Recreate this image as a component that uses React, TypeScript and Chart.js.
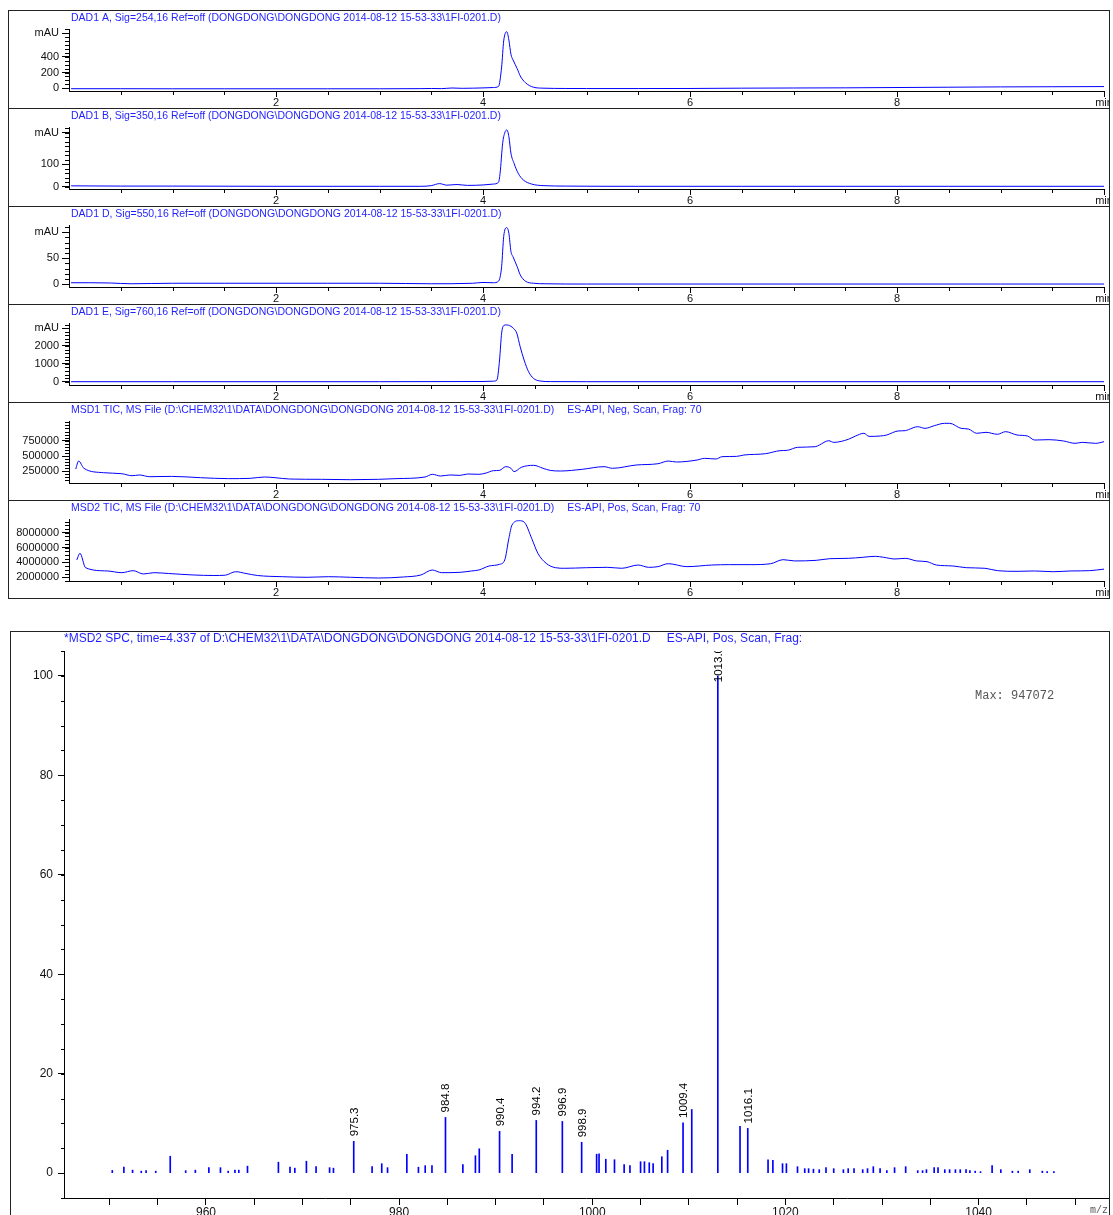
import React, { useEffect, useRef } from 'react';
import { Chart, registerables } from 'chart.js';

Chart.register(...registerables);

const FONT = '"Liberation Sans", Arial, Helvetica, sans-serif';
const MONO = '"Liberation Mono", "Courier New", monospace';
const TRACE_BLUE = '#0000ff';
const TITLE_BLUE = '#1f1fff';
const AXIS = '#000000';
const FRAME = '#222222';

Chart.defaults.font.family = FONT;

// ---------- retention time axis ----------
const timeMajorTicks = [2, 4, 6, 8, 10];

// ---------- DAD1 A, 254 nm (mAU) ----------
const dadATime = [0.02, 0.5, 1.0, 1.5, 2.0, 2.5, 3.0, 3.4, 3.5, 3.6, 3.7, 3.8, 3.9, 4.0, 4.1, 4.15, 4.18, 4.2, 4.23, 4.25, 4.27, 4.29, 4.33, 4.36, 4.41, 4.49, 4.58, 4.8, 5.0, 5.5, 6.0, 6.5, 7.0, 7.5, 8.0, 8.5, 9.0, 9.5, 10.0];
const dadAValue = [-5, -5, -6, -6, -6, -6, -6, -4, -2, -4, 4, 0, 2, 5, 10, 25, 270, 600, 717, 611, 430, 360, 250, 156, 71, 13, 2, -2, -3, -3, -2, 2, 4, 6, 10, 14, 18, 20, 22];
const dadAYLabels = [0, 200, 400];

// ---------- DAD1 B, 350 nm (mAU) ----------
const dadBTime = [0.02, 0.5, 1.0, 2.0, 3.0, 3.4, 3.5, 3.58, 3.65, 3.75, 3.85, 4.0, 4.1, 4.15, 4.165, 4.19, 4.21, 4.23, 4.25, 4.27, 4.3, 4.34, 4.39, 4.47, 4.58, 4.8, 5.5, 6.5, 7.5, 8.5, 10.0];
const dadBValue = [4, 3, 3, 2, 2, 2, 5, 14, 7, 10, 6, 8, 12, 20, 60, 194, 240, 253, 223, 149, 104, 60, 30, 12, 5, 3, 2, 2, 2, 2, 2];
const dadBYLabels = [0, 100];

// ---------- DAD1 D, 550 nm (mAU) ----------
const dadDTime = [0.02, 0.2, 0.4, 0.6, 1.0, 1.5, 2.0, 2.5, 3.0, 3.5, 3.9, 4.0, 4.1, 4.15, 4.18, 4.2, 4.23, 4.25, 4.27, 4.29, 4.33, 4.36, 4.41, 4.49, 4.6, 5.0, 6.0, 7.0, 8.0, 9.0, 10.0];
const dadDValue = [3, 3, 2.5, 1, 2, 2, 2, 2, 2, 1, 2, 3.5, 3, 6, 34, 92, 109, 98, 63, 53, 34, 18, 6, 2, 1, 0.5, 0.5, 0.5, 0.5, 0.5, 0.5];
const dadDYLabels = [0, 50];

// ---------- DAD1 E, 760 nm (mAU) ----------
const dadETime = [0.02, 1.0, 2.0, 3.0, 4.0, 4.1, 4.134, 4.16, 4.18, 4.204, 4.225, 4.246, 4.27, 4.294, 4.326, 4.359, 4.397, 4.44, 4.487, 4.55, 4.65, 5.0, 6.0, 8.0, 10.0];
const dadEValue = [0, 0, 0, 0, 10, 30, 90, 1215, 2720, 3160, 3180, 3165, 3100, 2990, 2720, 1960, 1215, 560, 190, 40, 5, 0, 0, 0, 0];
const dadEYLabels = [0, 1000, 2000];

// ---------- MSD1 TIC, negative scan ----------
const ticNegTime = [0.065, 0.093, 0.144, 0.334, 0.51, 0.61, 0.68, 0.78, 0.99, 1.27, 1.54, 1.75, 1.89, 1.99, 2.13, 2.44, 2.72, 2.99, 3.16, 3.44, 3.51, 3.59, 3.68, 3.78, 3.85, 3.96, 4.03, 4.10, 4.16, 4.22, 4.27, 4.30, 4.37, 4.49, 4.58, 4.65, 4.75, 4.96, 5.17, 5.25, 5.48, 5.69, 5.79, 5.87, 6.07, 6.14, 6.25, 6.31, 6.45, 6.52, 6.73, 6.87, 6.94, 7.04, 7.21, 7.25, 7.34, 7.39, 7.53, 7.60, 7.68, 7.73, 7.84, 7.90, 8.01, 8.08, 8.11, 8.20, 8.27, 8.36, 8.46, 8.51, 8.62, 8.69, 8.77, 8.86, 8.97, 9.05, 9.16, 9.26, 9.33, 9.47, 9.61, 9.72, 9.79, 9.92, 10.0];
const ticNegValue = [287000, 418000, 299000, 227000, 211000, 178000, 190000, 162000, 167000, 146000, 130000, 135000, 157000, 146000, 124000, 119000, 113000, 119000, 130000, 157000, 201000, 173000, 190000, 184000, 206000, 201000, 222000, 260000, 266000, 326000, 299000, 244000, 315000, 348000, 299000, 265000, 255000, 283000, 326000, 299000, 353000, 374000, 418000, 402000, 435000, 462000, 451000, 489000, 494000, 516000, 538000, 587000, 593000, 642000, 652000, 680000, 750000, 723000, 773000, 827000, 871000, 821000, 827000, 843000, 909000, 914000, 930000, 979000, 952000, 995000, 1034000, 1034000, 952000, 941000, 871000, 887000, 855000, 898000, 843000, 827000, 761000, 767000, 745000, 707000, 723000, 707000, 734000];
const ticNegYLabels = [250000, 500000, 750000];

// ---------- MSD2 TIC, positive scan ----------
const ticPosTime = [0.075, 0.106, 0.16, 0.37, 0.51, 0.62, 0.72, 0.82, 0.96, 1.20, 1.40, 1.51, 1.61, 1.71, 1.82, 2.06, 2.30, 2.51, 2.72, 2.99, 3.23, 3.40, 3.51, 3.60, 3.78, 3.89, 3.96, 4.06, 4.16, 4.21, 4.25, 4.28, 4.35, 4.40, 4.47, 4.53, 4.61, 4.70, 4.79, 5.0, 5.20, 5.34, 5.50, 5.60, 5.69, 5.79, 5.97, 6.21, 6.38, 6.59, 6.78, 6.90, 7.01, 7.22, 7.35, 7.53, 7.67, 7.79, 7.87, 7.98, 8.08, 8.19, 8.29, 8.38, 8.54, 8.67, 8.85, 8.97, 9.16, 9.33, 9.51, 9.68, 9.86, 10.0];
const ticPosValue = [4330000, 5230000, 3290000, 2850000, 2620000, 2890000, 2440000, 2620000, 2510000, 2310000, 2240000, 2280000, 2750000, 2510000, 2240000, 2080000, 2000000, 2080000, 2000000, 1900000, 2040000, 2310000, 2980000, 2620000, 2670000, 2850000, 2980000, 3520000, 3740000, 4330000, 7240000, 9030000, 9610000, 9400000, 7240000, 5230000, 3880000, 3290000, 3210000, 3290000, 3340000, 3210000, 3650000, 3340000, 3430000, 3830000, 3430000, 3650000, 3700000, 3700000, 3830000, 4370000, 4200000, 4280000, 4500000, 4550000, 4690000, 4820000, 4690000, 4460000, 4550000, 4200000, 4100000, 3650000, 3520000, 3290000, 3210000, 2890000, 2800000, 2850000, 2750000, 2850000, 2890000, 3100000];
const ticPosYLabels = [2000000, 4000000, 6000000, 8000000];

// ---------- MSD2 spectrum at 4.337 min (relative abundance, %) ----------
const spectrumMz = [
  950.3, 951.5, 952.4, 953.3, 953.8, 954.8, 956.3, 957.9, 958.9, 960.3,
  961.5, 962.3, 963.0, 963.4, 964.3, 967.5, 968.7, 969.2, 970.4, 971.4,
  972.8, 973.2, 975.3, 977.2, 978.2, 978.8, 980.8, 982.0, 982.7, 983.4,
  984.8, 986.6, 987.9, 988.3, 990.4, 991.7, 994.2, 996.9, 998.9, 1000.45,
  1000.7, 1001.4, 1002.3, 1003.3, 1003.9, 1005.0, 1005.4, 1005.9, 1006.3, 1007.2,
  1007.8, 1009.4, 1010.3, 1013.0, 1015.3, 1016.1, 1018.2, 1018.7, 1019.7, 1020.1,
  1021.25, 1022.0, 1022.4, 1022.9, 1023.5, 1024.2, 1025.0, 1026.0, 1026.5, 1027.1,
  1028.0, 1028.5, 1029.1, 1029.8, 1030.5, 1031.3, 1032.45, 1033.7, 1034.2, 1034.6,
  1035.4, 1035.8, 1036.5, 1037.0, 1037.6, 1038.1, 1038.7, 1039.1, 1039.65, 1040.2,
  1041.4, 1042.3, 1043.5, 1044.1, 1045.3, 1046.6, 1047.1, 1047.8,
];
const spectrumAbundance = [
  0.55, 1.2, 0.6, 0.4, 0.5, 0.4, 3.4, 0.5, 0.6, 1.1,
  1.1, 0.4, 0.6, 0.6, 1.4, 2.2, 1.2, 1.0, 2.4, 1.3,
  1.1, 1.0, 6.4, 1.3, 1.9, 1.1, 3.8, 1.2, 1.5, 1.5,
  11.2, 1.7, 3.5, 4.9, 8.4, 3.8, 10.6, 10.4, 6.2, 3.8,
  3.9, 2.8, 2.7, 1.7, 1.5, 2.3, 2.3, 2.1, 1.9, 3.3,
  4.6, 10.1, 12.8, 100, 9.4, 9.0, 2.7, 2.6, 1.9, 1.9,
  1.3, 0.9, 0.9, 0.8, 0.7, 1.1, 0.9, 0.7, 0.9, 0.9,
  0.7, 0.9, 1.3, 0.9, 0.5, 1.1, 1.3, 0.5, 0.5, 0.7,
  1.1, 1.1, 0.7, 0.7, 0.7, 0.7, 0.7, 0.5, 0.4, 0.3,
  1.5, 0.7, 0.4, 0.4, 0.7, 0.4, 0.3, 0.3,
];
const labelledPeaks = [975.3, 984.8, 990.4, 994.2, 996.9, 998.9, 1009.4, 1013.0, 1016.1];
const spectrumYLabels = [0, 20, 40, 60, 80, 100];
const spectrumMaxCounts = 947072;

const FILE = '2014-08-12 15-53-33\\1FI-0201.D';

type Panel = {
  title: string;
  suffix?: string;
  time: number[];
  value: number[];
  yMin: number;
  yMax: number;
  yLabels: number[];
  unitAt?: number;
  yMinorStep: number;
};

const panels: Panel[] = [
  { title: `DAD1 A, Sig=254,16 Ref=off (DONGDONG\\DONGDONG ${FILE})`, time: dadATime, value: dadAValue, yMin: -34, yMax: 751, yLabels: dadAYLabels, unitAt: 700, yMinorStep: 50 },
  { title: `DAD1 B, Sig=350,16 Ref=off (DONGDONG\\DONGDONG ${FILE})`, time: dadBTime, value: dadBValue, yMin: -10, yMax: 266, yLabels: dadBYLabels, unitAt: 240, yMinorStep: 20 },
  { title: `DAD1 D, Sig=550,16 Ref=off (DONGDONG\\DONGDONG ${FILE})`, time: dadDTime, value: dadDValue, yMin: -5.2, yMax: 114, yLabels: dadDYLabels, unitAt: 100, yMinorStep: 10 },
  { title: `DAD1 E, Sig=760,16 Ref=off (DONGDONG\\DONGDONG ${FILE})`, time: dadETime, value: dadEValue, yMin: -185, yMax: 3287, yLabels: dadEYLabels, unitAt: 3000, yMinorStep: 200 },
  { title: `MSD1 TIC, MS File (D:\\CHEM32\\1\\DATA\\DONGDONG\\DONGDONG ${FILE})`, suffix: 'ES-API, Neg, Scan, Frag: 70', time: ticNegTime, value: ticNegValue, yMin: 59000, yMax: 1072000, yLabels: ticNegYLabels, yMinorStep: 50000 },
  { title: `MSD2 TIC, MS File (D:\\CHEM32\\1\\DATA\\DONGDONG\\DONGDONG ${FILE})`, suffix: 'ES-API, Pos, Scan, Frag: 70', time: ticPosTime, value: ticPosValue, yMin: 1500000, yMax: 9840000, yLabels: ticPosYLabels, yMinorStep: 500000 },
];

type Deco = {
  title: string;
  suffix?: string;
  suffixGap: number;
  titleDx: number;
  titleBaseline: number;
  titleSize: number;
  xMinor?: { step: number; len: number };
  yMinor?: { step: number; len: number };
  extra?: (chart: any) => void;
};

// Draws short minor tick marks, the blue header text and any extra annotations.
function decoPlugin(d: Deco) {
  return {
    id: 'deco',
    afterDraw(chart: any) {
      const ctx = chart.ctx as CanvasRenderingContext2D;
      const { left, bottom } = chart.chartArea;
      const xs = chart.scales.x;
      const ys = chart.scales.y;
      ctx.save();
      ctx.strokeStyle = AXIS;
      ctx.lineWidth = 1;
      ctx.beginPath();
      if (d.yMinor) {
        const { step, len } = d.yMinor;
        for (let i = Math.ceil(ys.min / step); i * step <= ys.max + 1e-9; i++) {
          const p = Math.round(ys.getPixelForValue(i * step)) + 0.5;
          ctx.moveTo(left - len, p);
          ctx.lineTo(left + 0.5, p);
        }
      }
      if (d.xMinor) {
        const { step, len } = d.xMinor;
        for (let i = Math.ceil(xs.min / step); i * step <= xs.max + 1e-9; i++) {
          if (i * step <= xs.min) continue;
          const p = Math.round(xs.getPixelForValue(i * step)) + 0.5;
          ctx.moveTo(p, bottom + 0.5);
          ctx.lineTo(p, bottom + len);
        }
      }
      ctx.stroke();

      ctx.font = `${d.titleSize}px ${FONT}`;
      ctx.fillStyle = TITLE_BLUE;
      ctx.textAlign = 'left';
      ctx.textBaseline = 'alphabetic';
      const tx = left + d.titleDx;
      ctx.fillText(d.title, tx, d.titleBaseline);
      if (d.suffix) {
        const w = ctx.measureText(d.title).width;
        ctx.fillText(d.suffix, tx + w + d.suffixGap, d.titleBaseline);
      }
      ctx.restore();
      if (d.extra) d.extra(chart);
    },
  };
}

function chromConfig(p: Panel): any {
  const yTicks = p.unitAt !== undefined ? [...p.yLabels, p.unitAt] : [...p.yLabels];
  return {
    type: 'line',
    data: {
      datasets: [
        {
          data: p.time.map((t, i) => ({ x: t, y: p.value[i] })),
          borderColor: TRACE_BLUE,
          borderWidth: 1,
          pointRadius: 0,
          fill: false,
          cubicInterpolationMode: 'monotone',
        },
      ],
    },
    options: {
      animation: false,
      responsive: false,
      events: [],
      layout: { autoPadding: false, padding: { left: 0, right: 5, top: 18, bottom: 0 } },
      plugins: { legend: { display: false }, tooltip: { enabled: false }, title: { display: false } },
      scales: {
        x: {
          type: 'linear',
          min: 0,
          max: 10,
          bounds: 'data',
          afterBuildTicks: (s: any) => {
            s.ticks = timeMajorTicks.map((v) => ({ value: v }));
          },
          afterFit: (s: any) => {
            s.height = 17;
            s.paddingLeft = 0;
            s.paddingRight = 0;
          },
          ticks: {
            autoSkip: false,
            maxRotation: 0,
            padding: -1,
            color: '#111',
            font: { size: 11, family: FONT },
            callback: (v: number) => (v === 10 ? 'min' : String(v)),
          },
          grid: { drawOnChartArea: false, tickLength: 6, color: AXIS, lineWidth: 1 },
          border: { display: true, color: AXIS, width: 1 },
        },
        y: {
          type: 'linear',
          min: p.yMin,
          max: p.yMax,
          bounds: 'data',
          afterBuildTicks: (s: any) => {
            s.ticks = yTicks.map((v) => ({ value: v }));
          },
          afterFit: (s: any) => {
            s.width = 60;
            s.paddingTop = 0;
            s.paddingBottom = 0;
          },
          ticks: {
            autoSkip: false,
            padding: 3,
            color: '#111',
            font: { size: 11, family: FONT },
            callback: (v: number) => (p.unitAt !== undefined && v === p.unitAt ? 'mAU' : String(v)),
          },
          grid: { drawOnChartArea: false, tickLength: 7, color: AXIS, lineWidth: 1 },
          border: { display: true, color: AXIS, width: 1 },
        },
      },
    },
    plugins: [
      decoPlugin({
        title: p.title,
        suffix: p.suffix,
        suffixGap: 13,
        titleDx: 2,
        titleBaseline: 10,
        titleSize: 10.5,
        xMinor: { step: 0.5, len: 4 },
        yMinor: { step: p.yMinorStep, len: 4 },
      }),
    ],
  };
}

// Peak labels, the abundance note and the m/z unit of the spectrum.
function spectrumExtras(chart: any) {
  const ctx = chart.ctx as CanvasRenderingContext2D;
  const { left, right, top, bottom } = chart.chartArea;
  const meta = chart.getDatasetMeta(0);
  ctx.save();
  ctx.beginPath();
  ctx.rect(left, top, right - left, bottom - top);
  ctx.clip();
  ctx.font = `11.5px ${FONT}`;
  ctx.fillStyle = '#000';
  ctx.textAlign = 'left';
  ctx.textBaseline = 'middle';
  for (const mz of labelledPeaks) {
    const i = spectrumMz.indexOf(mz);
    if (i < 0) continue;
    const el = meta.data[i];
    const text = mz.toFixed(1);
    const w = ctx.measureText(text).width;
    const start = Math.max(el.y - 5, top + w - 4);
    ctx.save();
    ctx.translate(Math.round(el.x) + 0.5, start);
    ctx.rotate(-Math.PI / 2);
    ctx.fillText(text, 0, 0.5);
    ctx.restore();
  }
  ctx.restore();

  ctx.save();
  ctx.font = `12px ${MONO}`;
  ctx.fillStyle = '#555';
  ctx.textAlign = 'left';
  ctx.textBaseline = 'alphabetic';
  ctx.fillText(`Max: ${spectrumMaxCounts}`, right - 133, 67);
  ctx.font = `10px ${MONO}`;
  ctx.textAlign = 'right';
  ctx.fillText('m/z', right, 581);
  ctx.restore();
}

function spectrumConfig(): any {
  const xTicks: number[] = [];
  for (let v = 950; v <= 1050; v += 5) xTicks.push(v);
  return {
    type: 'bar',
    data: {
      datasets: [
        {
          data: spectrumMz.map((m, i) => ({ x: m, y: spectrumAbundance[i] })),
          backgroundColor: TRACE_BLUE,
          borderWidth: 0,
          barThickness: 1,
        },
      ],
    },
    options: {
      animation: false,
      responsive: false,
      events: [],
      layout: { autoPadding: false, padding: { left: 0, right: 1, top: 19, bottom: 0 } },
      plugins: { legend: { display: false }, tooltip: { enabled: false }, title: { display: false } },
      scales: {
        x: {
          type: 'linear',
          min: 945.3,
          max: 1053.4,
          bounds: 'data',
          offset: false,
          afterBuildTicks: (s: any) => {
            s.ticks = xTicks.map((v) => ({ value: v }));
          },
          afterFit: (s: any) => {
            s.height = 17;
            s.paddingLeft = 0;
            s.paddingRight = 0;
          },
          ticks: {
            autoSkip: false,
            maxRotation: 0,
            padding: 0,
            color: '#111',
            font: { size: 12, family: FONT },
            callback: (v: number) => (v % 20 === 0 ? String(v) : ''),
          },
          grid: { drawOnChartArea: false, offset: false, tickLength: 7, color: AXIS, lineWidth: 1 },
          border: { display: true, color: AXIS, width: 1 },
        },
        y: {
          type: 'linear',
          min: -5,
          max: 105,
          bounds: 'data',
          afterBuildTicks: (s: any) => {
            s.ticks = spectrumYLabels.map((v) => ({ value: v }));
          },
          afterFit: (s: any) => {
            s.width = 53;
            s.paddingTop = 0;
            s.paddingBottom = 0;
          },
          ticks: {
            autoSkip: false,
            padding: 5,
            color: '#111',
            font: { size: 12, family: FONT },
            callback: (v: number) => String(v),
          },
          grid: { drawOnChartArea: false, tickLength: 6, color: AXIS, lineWidth: 1 },
          border: { display: true, color: AXIS, width: 1 },
        },
      },
    },
    plugins: [
      decoPlugin({
        title: `*MSD2 SPC, time=4.337 of D:\\CHEM32\\1\\DATA\\DONGDONG\\DONGDONG ${FILE}`,
        suffix: 'ES-API, Pos, Scan, Frag:',
        suffixGap: 16,
        titleDx: 0,
        titleBaseline: 10,
        titleSize: 12,
        yMinor: { step: 5, len: 3 },
        extra: spectrumExtras,
      }),
    ],
  };
}

function ChartBox(props: { build: () => any; left: number; top: number; width: number; height: number }) {
  const ref = useRef<HTMLCanvasElement | null>(null);
  const { build, left, top, width, height } = props;
  useEffect(() => {
    if (!ref.current) return;
    const chart = new Chart(ref.current, build());
    return () => chart.destroy();
  }, []);
  return (
    <canvas
      ref={ref}
      width={width}
      height={height}
      style={{ position: 'absolute', left, top, width, height, display: 'block' }}
    />
  );
}

const PANEL_H = 98;

export default function App() {
  return (
    <div
      style={{
        position: 'fixed',
        left: 0,
        top: 0,
        width: 1113,
        height: 1215,
        overflow: 'hidden',
        background: '#fff',
      }}
    >
      <div
        style={{
          position: 'absolute',
          left: 8,
          top: 10,
          width: 1102,
          height: 589,
          border: `1px solid ${FRAME}`,
          boxSizing: 'border-box',
        }}
      />
      {[1, 2, 3, 4, 5].map((k) => (
        <div
          key={`d${k}`}
          style={{ position: 'absolute', left: 8, top: 10 + PANEL_H * k, width: 1102, height: 1, background: FRAME }}
        />
      ))}
      {panels.map((p, k) => (
        <ChartBox key={`p${k}`} build={() => chromConfig(p)} left={9} top={11 + PANEL_H * k} width={1100} height={97} />
      ))}
      <div
        style={{
          position: 'absolute',
          left: 10,
          top: 631,
          width: 1100,
          height: 700,
          border: `1px solid ${FRAME}`,
          boxSizing: 'border-box',
        }}
      />
      <ChartBox build={spectrumConfig} left={11} top={632} width={1098} height={583} />
    </div>
  );
}
